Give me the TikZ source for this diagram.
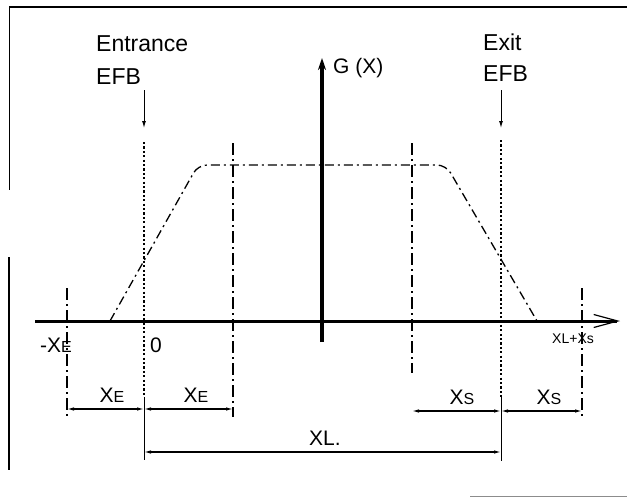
\documentclass[tikz,border=0pt]{standalone}
\usepackage{fontspec}
\setmainfont{Liberation Sans}
\usetikzlibrary{arrows.meta}
\newcommand{\sbE}[1]{{\fontsize{16}{16}\selectfont #1}}
\begin{document}
\begin{tikzpicture}[x=1pt,y=-1pt,
  axis/.style={line width=3pt},
  efb/.style={line width=2pt, dash pattern=on 2.2pt off 2.2pt},
  dashdot/.style={line width=1.2pt, dash pattern=on 12pt off 4pt on 2pt off 4pt},
  curve/.style={line width=1.3pt, dash pattern=on 9pt off 4pt on 2pt off 4pt, rounded corners=9pt},
  thinline/.style={line width=1pt},
  dim/.style={line width=1.1pt, {Latex[length=7pt,width=3.5pt]}-{Latex[length=7pt,width=3.5pt]}},
  head/.style={inner sep=0pt, font=\fontsize{23}{23}\selectfont},
  lbl/.style={inner sep=0pt, font=\fontsize{21}{21}\selectfont},
  tiny/.style={inner sep=0pt, font=\fontsize{14}{14}\selectfont},
  frame/.style={line width=1.4pt}]
\useasboundingbox (0,0) rectangle (627,499);

% frame
\coordinate (tl) at (9,7); \coordinate (tr) at (627,7);
\coordinate (lA) at (9,190); \coordinate (lB) at (9,257); \coordinate (lC) at (9,470);
\coordinate (bA) at (470,496); \coordinate (bB) at (627,496);
\draw[frame] (tr) -- (tl);
\draw[line width=0.9pt] (tl) -- (lA);
\draw[line width=1.8pt] (lB) -- (lC);
\draw[line width=1pt, black!45] (bA) -- (bB);

% axes
\coordinate (axL) at (35,321); \coordinate (axR) at (620,321);
\coordinate (gB) at (322,342); \coordinate (gT) at (322,58);
\draw[axis, -{Straight Barb[length=24pt,width=13pt,line width=1.2pt]}] (axL) -- (axR);
\draw[line width=3.5pt, -{Stealth[length=12pt,width=8pt]}] (gB) -- (gT);

% EFB markers
\coordinate (enA) at (144,90); \coordinate (enB) at (144,128);
\coordinate (enT) at (144,142); \coordinate (enM) at (144,397); \coordinate (enD) at (144,460);
\coordinate (exA) at (501,90); \coordinate (exB) at (501,128);
\coordinate (exT) at (501,140); \coordinate (exM) at (501,397); \coordinate (exD) at (501,461);
\draw[thinline, -{Latex[length=7pt,width=4pt]}] (enA) -- (enB);
\draw[thinline, -{Latex[length=7pt,width=4pt]}] (exA) -- (exB);
\draw[efb] (enT) -- (enM);
\draw[efb] (exT) -- (exM);
\draw[thinline] (enM) -- (enD);
\draw[thinline] (exM) -- (exD);

% dash-dot verticals
\coordinate (v1T) at (233,143); \coordinate (v1B) at (233,417);
\coordinate (v2T) at (412,143); \coordinate (v2B) at (412,373);
\coordinate (v3T) at (67,288);  \coordinate (v3B) at (67,417);
\coordinate (v4T) at (582,288); \coordinate (v4B) at (582,418);
\draw[dashdot] (v1T) -- (v1B);
\draw[dashdot] (v2T) -- (v2B);
\draw[dashdot] (v3T) -- (v3B);
\draw[dashdot] (v4T) -- (v4B);

% trapezoid
\coordinate (c0) at (110,321); \coordinate (c1) at (198,165);
\coordinate (c2) at (446,165); \coordinate (c3) at (537,321);
\draw[curve] (c0) -- (c1) -- (c2) -- (c3);

% dimensions
\coordinate (d1) at (67,409); \coordinate (d2) at (144,409); \coordinate (d3) at (233,409);
\coordinate (d4) at (144,452); \coordinate (d5) at (501,452);
\coordinate (d6) at (412,411); \coordinate (d7) at (501,411); \coordinate (d8) at (582,411);
\draw[dim] (d1) -- (d2);
\draw[dim] (d2) -- (d3);
\draw[dim] (d4) -- (d5);
\draw[dim] (d6) -- (d7);
\draw[dim] (d7) -- (d8);

% labels
\node[head, anchor=west] (tEn) at (96,44) {Entrance};
\node[head, anchor=west] (tEnB) at (96,77) {EFB};
\node[head, anchor=west] (tEx) at (483,42) {Exit};
\node[head, anchor=west] (tExB) at (483,74) {EFB};
\node[lbl, anchor=west] (tG) at (333,68) {G (X)};
\node[lbl, anchor=west] (tmXE) at (40,345) {-X\sbE{E}};
\node[lbl, anchor=west] (t0) at (150,345) {0};
\node[tiny, anchor=west] (tXLs) at (552,339) {XL+Xs};
\node[lbl] (tXE1) at (112,395) {X\sbE{E}};
\node[lbl] (tXE2) at (196,395) {X\sbE{E}};
\node[lbl] (tXL) at (325,438) {XL.};
\node[lbl] (tXS1) at (462,397) {X\sbE{S}};
\node[lbl] (tXS2) at (549,397) {X\sbE{S}};
\end{tikzpicture}
\end{document}
